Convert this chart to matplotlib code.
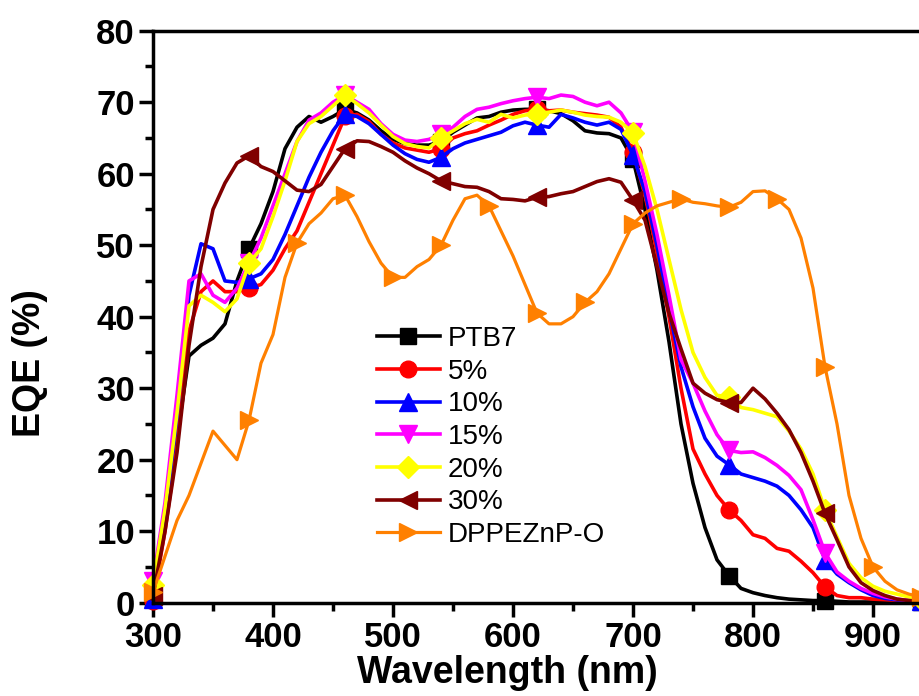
# EQE spectra: PTB7 blends vs DPPEZnP-O
import matplotlib
matplotlib.use("Agg")
import matplotlib.pyplot as plt
from matplotlib.ticker import MultipleLocator

plt.rcParams['font.family'] = ['Liberation Sans', 'DejaVu Sans']

# wavelength (nm)
wl = [300, 310, 320, 330, 340, 350, 360, 370, 380, 390, 400, 410, 420, 430, 440, 450, 460,
      470, 480, 490, 500, 510, 520, 530, 540, 550, 560, 570, 580, 590, 600, 610, 620,
      630, 640, 650, 660, 670, 680, 690, 700, 710, 720, 730, 740, 750, 760, 770, 780,
      790, 800, 810, 820, 830, 840, 850, 860, 870, 880, 890, 900, 910, 920, 930, 940]

# EQE (%)
ptb7 = [0.5, 11, 23, 34.5, 36, 37, 39, 45, 49.5, 53, 57.5, 63.5, 66.5, 68, 67.2, 68, 69,
        68.5, 67.5, 66, 64.8, 64.2, 64, 64, 64.5, 65.8, 66.8, 67.8, 68, 68.6, 68.9, 69, 69,
        68.8, 68.4, 67.4, 66, 65.7, 65.6, 65, 62, 55, 46.5, 36.5, 25, 16.7, 10.5, 6, 3.8,
        2, 1.4, 1, 0.7, 0.5, 0.4, 0.3, 0.3, 0.2, 0.1, 0.1, 0.1, 0.1, 0.1, 0.1, 0.1]
p5 = [0.3, 10, 22, 38, 43.5, 45, 43.5, 43.5, 44, 44.5, 46.5, 49.5, 52, 56, 60, 64, 68,
      68.3, 67.3, 65.5, 64.3, 63.6, 63.3, 63, 63.5, 65, 65.6, 66, 66.8, 67.5, 68.3, 68.8, 69,
      68.8, 68.9, 68.6, 68.4, 68.2, 67.9, 66.5, 63, 57, 49, 40, 30, 21.5, 18, 15, 13,
      11.5, 9.5, 9, 7.6, 7.2, 5.8, 4.2, 2.2, 1, 0.7, 0.7, 0.5, 0.4, 0.3, 0.2, 0.2]
p10 = [0.5, 12, 26, 43, 50.2, 49.5, 45, 44.8, 45.3, 46, 48, 51.5, 55.5, 59.5, 63, 66, 68.3,
       68, 67, 65.5, 64, 62.8, 62, 61.6, 62.3, 63.5, 64.3, 64.8, 65.3, 65.8, 66.7, 67.2, 66.8,
       66.5, 68.3, 67.8, 67.2, 66.8, 67.2, 66.2, 62.6, 57.5, 50, 41, 33, 27.4, 23, 20.5, 19.3,
       18, 17.5, 17, 16.3, 15, 13, 10.5, 6, 4, 2.8, 1.8, 1, 0.6, 0.4, 0.3, 0.2]
p15 = [3, 14, 29, 45, 46, 43, 42, 44, 47.5, 51, 55.5, 60, 64.5, 67.5, 68.5, 70, 71,
       70, 69, 67, 65.5, 64.7, 64.5, 64.8, 65.5, 66.5, 68, 69, 69.3, 69.8, 70.2, 70.5, 70.7,
       70.5, 71, 70.8, 70, 69.5, 70, 68.5, 65.8, 59, 51.5, 43, 34, 30.7, 26.8, 23.5, 21.3,
       21, 21.1, 20.3, 19.2, 17.8, 15.8, 11.6, 7, 4.3, 3, 2, 1.3, 0.8, 0.5, 0.3, 0.2]
p20 = [2.5, 13, 26.5, 41.5, 43, 42, 40.7, 42.5, 47.5, 49.5, 54, 59, 64.5, 67, 68, 69.5, 71,
       69.8, 68.5, 66.8, 65.2, 64.2, 63.8, 63.6, 65, 66, 67, 67.6, 67.2, 68.3, 67.8, 68.2, 68.4,
       68.6, 68.9, 68.6, 68.2, 68, 67.9, 67.2, 65.7, 61, 55, 48, 41, 35, 31.5, 29, 28.8,
       27.3, 27, 26.5, 26, 24, 21.5, 18, 13, 9.2, 5.5, 3.5, 2.3, 1.6, 1.2, 0.8, 0.5]
p30 = [1, 10, 21, 36, 47, 55, 58.7, 61.5, 62.5, 61, 60.3, 59, 57.7, 57.5, 58.5, 61, 63.5,
       64.6, 64.5, 63.8, 63, 61.8, 60.8, 60, 59, 58.6, 58.2, 58.1, 57.5, 56.5, 56.4, 56.2, 56.7,
       56.8, 57.2, 57.5, 58.2, 58.9, 59.3, 58.8, 56.3, 53.5, 47, 40.5, 35.5, 30.7, 29.3, 28.4, 28,
       28, 30, 28.5, 26.5, 24.2, 21, 17, 12.5, 8.8, 5, 2.8, 1.7, 1, 0.5, 0.3, 0.2]
dppe = [1.5, 6.5, 11.5, 15, 19.5, 24, 22, 20, 25.5, 33.5, 37.5, 45.5, 50.3, 53, 54.5, 56.5, 57,
        54, 50.5, 47.5, 45.5, 45.5, 47, 48, 50, 53.5, 56.5, 57, 55.5, 52, 48.5, 44.5, 40.5,
        39, 39, 40, 42, 43.5, 46, 49.5, 53, 54.5, 55.5, 56, 56.5, 56, 55.8, 55.5, 55.3,
        56, 57.5, 57.6, 56.5, 55, 51, 44, 33, 25, 15, 9, 5, 3, 1.8, 1.2, 0.8]

labels = ['PTB7', '5%', '10%', '15%', '20%', '30%', 'DPPEZnP-O']
colors = ['black', '#FF0000', '#0000FF', '#FF00FF', '#FFFF00', '#800000', '#FF8000']
markers = ['s', 'o', '^', 'v', 'D', '<', '>']

fig = plt.figure(figsize=(9.2, 6.96), dpi=100)
ax = fig.add_axes([153 / 920, 93.3 / 696, 768 / 920, 572 / 696])

series = [ptb7, p5, p10, p15, p20, p30, dppe]
every = list(range(0, 65, 8))
every_o = [0] + list(range(8, 65, 4))
for i in range(7):
    ms = 13
    if markers[i] == 'D':
        ms = 11
    if markers[i] in ('s', 'o'):
        ms = 12
    ax.plot(wl, series[i], color=colors[i], lw=2.6 if i < 6 else 2.3,
            marker=markers[i], markersize=ms, markevery=every if i < 6 else every_o,
            label=labels[i], clip_on=False)

ax.set_xlim(300, 940)
ax.set_ylim(0, 80)
ax.xaxis.set_major_locator(MultipleLocator(100))
ax.xaxis.set_minor_locator(MultipleLocator(50))
ax.yaxis.set_major_locator(MultipleLocator(10))
ax.yaxis.set_minor_locator(MultipleLocator(5))
ax.tick_params(which='major', direction='out', length=10, width=2.5, pad=3,
               labelsize=25)
ax.tick_params(which='minor', direction='out', length=6, width=2.5)
for lab in ax.get_xticklabels() + ax.get_yticklabels():
    lab.set_fontweight('bold')
for s in ['left', 'bottom', 'top']:
    ax.spines[s].set_linewidth(2.5)
ax.spines['right'].set_visible(False)

ax.set_xlabel('Wavelength (nm)', fontsize=27, fontweight='bold')
ax.set_ylabel('EQE (%)', fontsize=27, fontweight='bold')
ax.xaxis.set_label_coords(0.461, -0.092)
ax.yaxis.set_label_coords(-0.137, 0.419)

fig.legend(loc='upper left', bbox_to_anchor=(377 / 920, 1 - 326 / 696),
           frameon=False, fontsize=20, handlelength=2.25, handletextpad=0.3,
           labelspacing=0.24, borderpad=0, borderaxespad=0)

plt.savefig('out.png', dpi=100)
